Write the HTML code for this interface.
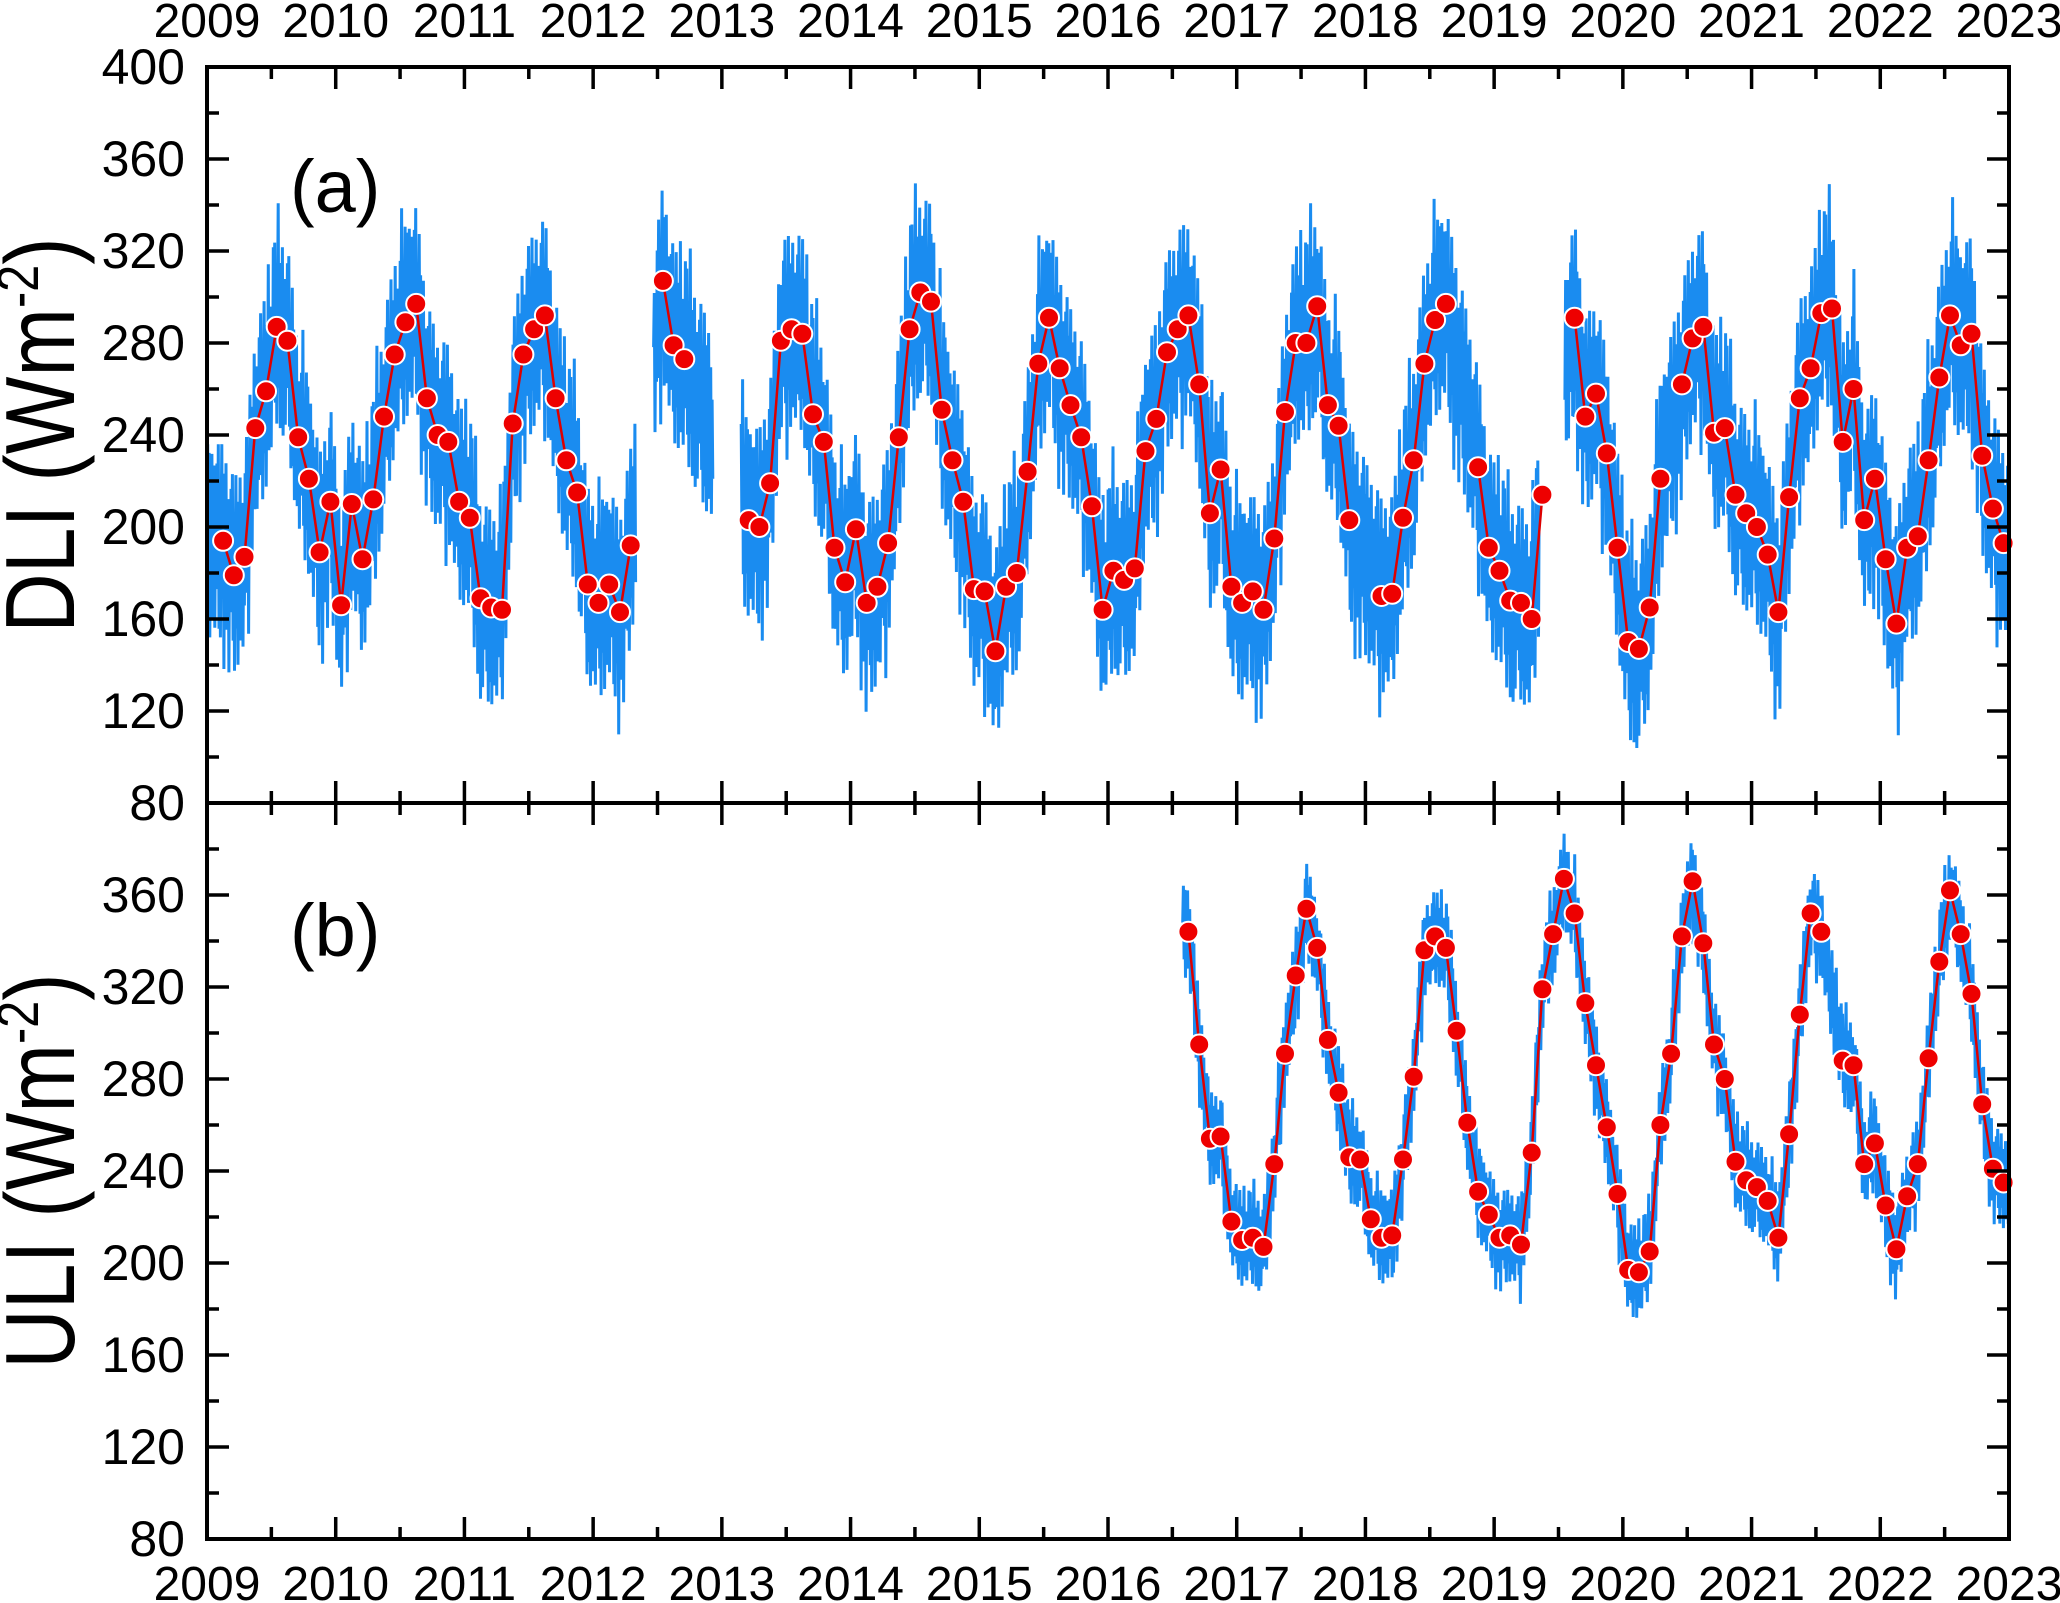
<!DOCTYPE html>
<html><head><meta charset="utf-8"><style>
html,body{margin:0;padding:0;background:#fff;}
svg{display:block;font-family:"Liberation Sans",Arial,sans-serif;}
</style></head><body>
<svg id="chart" width="2060" height="1603" viewBox="0 0 2060 1603" xmlns="http://www.w3.org/2000/svg">
<rect x="0" y="0" width="2060" height="1603" fill="#fff"/>
<g id="blueA"></g>
<g id="blueB"></g>
<g id="redA"></g>
<g id="redB"></g>
<g id="axes"></g>
<text x="290" y="212" font-size="74">(a)</text>
<text x="290" y="956" font-size="74">(b)</text>
<text transform="translate(74,435) rotate(-90) scale(0.84,1)" text-anchor="middle" font-size="98">DLI (Wm<tspan font-size="58" dy="-36">-2</tspan><tspan dy="36">)</tspan></text>
<text transform="translate(74,1171) rotate(-90) scale(0.84,1)" text-anchor="middle" font-size="98">ULI (Wm<tspan font-size="58" dy="-36">-2</tspan><tspan dy="36">)</tspan></text>
</svg>
<script>
const years = [2009,2010,2011,2012,2013,2014,2015,2016,2017,2018,2019,2020,2021,2022,2023];
const yTicks = [80,120,160,200,240,280,320,360,400];
const startYear = 2009;
// monthly DLI, starting Jan 2009 (null = missing)
const dliMonthly = [
 null,194,179,187,243,259,287,281,239,221,189,211,
 166,210,186,212,248,275,289,297,256,240,237,211,
 204,169,165,164,245,275,286,292,256,229,215,175,
 167,175,163,192,null,null,307,279,273,null,null,null,
 null,null,203,200,219,281,286,284,249,237,191,176,
 199,167,174,193,239,286,302,298,251,229,211,173,
 172,146,174,180,224,271,291,269,253,239,209,164,
 181,177,182,233,247,276,286,292,262,206,225,174,
 167,172,164,195,250,280,280,296,253,244,203,null,
 null,170,171,204,229,271,290,297,null,null,226,191,
 181,168,167,160,214,null,null,291,248,258,232,191,
 150,147,165,221,null,262,282,287,241,243,214,206,
 200,188,163,213,256,269,293,295,237,260,203,221,
 186,158,191,196,229,265,292,279,284,231,208,193
];
// monthly ULI, starting Jan 2009
const uliMonthly = [].concat(
 new Array(91).fill(null),
 [344,295,254,255,218],
 [210,211,207,243,291,325,354,337,297,274,246,245],
 [219,211,212,245,281,336,342,337,301,261,231,221],
 [211,212,208,248,319,343,367,352,313,286,259,230],
 [197,196,205,260,291,342,366,339,295,280,244,236],
 [233,227,211,256,308,352,344,null,288,286,243,252],
 [225,206,229,243,289,331,362,343,317,269,241,235]
);
// time ranges covered by daily data
const dliCoverage = [[2009.0,2012.33],[2012.47,2012.93],[2013.15,2019.35],[2019.55,2023.0]];
const uliCoverage = [[2016.58,2023.0]];
const dailySpreadDLI = 42;
const dailySpreadULI = 20;
const texture = [0.2,1,-0.6,0.7,-1,0.4,-0.3,0.9,-0.8,0.1,0.6,-0.9,0.3,-0.5,0.8,-0.2,1,-0.7,0.5,-1];

const L=207,R=2009,T=67,M=803,B=1539;
const yMin=80,yMax=400;
function xs(t){return L+(t-2009)/14*(R-L);}
function ysA(v){return M-(v-yMin)/(yMax-yMin)*(M-T);}
function ysB(v){return B-(v-yMin)/(yMax-yMin)*(B-M);}
const NS="http://www.w3.org/2000/svg";
function mk(tag,attrs,parent){const e=document.createElementNS(NS,tag);for(const k in attrs)e.setAttribute(k,attrs[k]);parent.appendChild(e);return e;}
function mtime(i){return startYear+(i+0.5)/12;}
function runs(arr){const r=[];let cur=null;arr.forEach((v,i)=>{if(v==null){if(cur){r.push(cur);cur=null;}}else{if(!cur)cur=[];cur.push(i);}});if(cur)r.push(cur);return r;}
function valueAt(arr,t){
  const f=(t-startYear)*12-0.5;
  let a=Math.floor(f);
  while(a>=0&&arr[a]==null)a--;
  let b=Math.floor(f)+1;
  while(b<arr.length&&arr[b]==null)b++;
  if(a<0)return arr[b];
  if(b>=arr.length)return arr[a];
  const w=Math.max(0,Math.min(1,(f-a)/(b-a)));
  return arr[a]*(1-w)+arr[b]*w;
}
function drawBlue(arr,cov,ys,spread,g){
  let k=0;
  cov.forEach(([t0,t1])=>{
    const pts=[];
    const n=Math.round((t1-t0)*365/2);
    for(let j=0;j<=n;j++){
      const t=t0+(t1-t0)*j/n;
      const v=valueAt(arr,t);
      const d=texture[k%texture.length]*spread*(k%7===3?1.3:1);k++;
      pts.push(xs(t).toFixed(1)+','+ys(v+d).toFixed(1));
    }
    const p=mk('polyline',{points:pts.join(' '),fill:'none',stroke:'#1a8cf0','stroke-width':3},g);
    
    
  });
}
function drawRed(arr,ys,g){
  runs(arr).forEach(run=>{
    const pts=run.map(i=>xs(mtime(i)).toFixed(1)+','+ys(arr[i]).toFixed(1));
    const p=mk('polyline',{points:pts.join(' '),fill:'none',stroke:'#dd0000','stroke-width':2.5},g);
    
    
  });
  arr.forEach((v,i)=>{if(v==null)return;
    const c=mk('circle',{cx:xs(mtime(i)).toFixed(1),cy:ys(v).toFixed(1),r:10,fill:'#ee0000',stroke:'#fff','stroke-width':2},g);
    
    
  });
}
drawBlue(dliMonthly,dliCoverage,ysA,dailySpreadDLI,document.getElementById('blueA'));
drawBlue(uliMonthly,uliCoverage,ysB,dailySpreadULI,document.getElementById('blueB'));
drawRed(dliMonthly,ysA,document.getElementById('redA'));
drawRed(uliMonthly,ysB,document.getElementById('redB'));

const ax=document.getElementById('axes');
[[T,M,ysA],[M,B,ysB]].forEach(([top,bot,ys],pi)=>{
  const r=mk('rect',{x:L,y:top,width:R-L,height:bot-top,fill:'none',stroke:'#000','stroke-width':4},ax);
  
  
  for(let v=yMin;v<=yMax;v+=20){
    const major=v%40===0;const len=major?22:12;const y=ys(v);
    mk('line',{x1:L,y1:y,x2:L+len,y2:y,stroke:'#000','stroke-width':3.5},ax);
    mk('line',{x1:R,y1:y,x2:R-len,y2:y,stroke:'#000','stroke-width':3.5},ax);
  }
  yTicks.forEach(v=>{
    if(pi===1&&v===400)return;
    const t=mk('text',{x:185,y:ys(v)+17,'text-anchor':'end','font-size':50},ax);
    t.textContent=v;
    
    
  });
  for(let yy=2009;yy<2023;yy+=0.5){
    const major=Number.isInteger(yy);const len=major?22:12;const x=xs(yy);
    mk('line',{x1:x,y1:top,x2:x,y2:top+len,stroke:'#000','stroke-width':3.5},ax);
    mk('line',{x1:x,y1:bot,x2:x,y2:bot-len,stroke:'#000','stroke-width':3.5},ax);
  }
});
years.forEach(yr=>{
  [37,1600].forEach(y=>{
    const t=mk('text',{x:xs(yr),y:y,'text-anchor':'middle','font-size':48},ax);
    t.textContent=yr;
    
    
  });
});
</script>
</body></html>
